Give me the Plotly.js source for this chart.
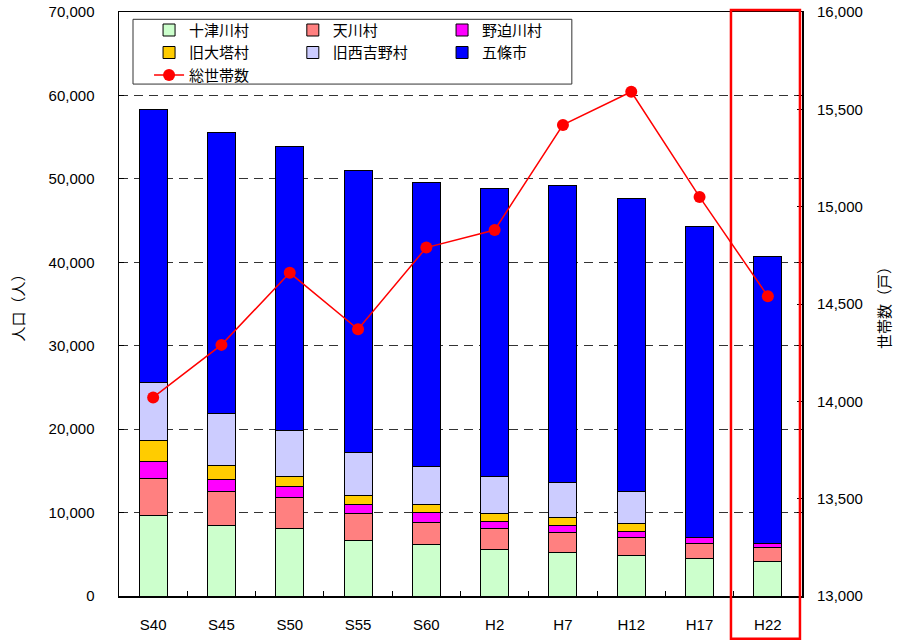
<!DOCTYPE html>
<html>
<head>
<meta charset="utf-8">
<script src="https://cdn.plot.ly/plotly-3.0.1.min.js"></script>
<style>html,body{margin:0;padding:0;background:#fff;}#chart{width:898px;height:640px;}</style>
</head>
<body>
<div id="chart"></div>
<script>
// ---- data ----
const years = ['S40','S45','S50','S55','S60','H2','H7','H12','H17','H22'];
const totsukawa = [9700, 8460, 8060, 6660, 6180, 5540, 5220, 4860, 4500, 4140];
const tenkawa   = [4440, 4080, 3760, 3200, 2600, 2520, 2360, 2160, 1840, 1640];
const nosegawa  = [2000, 1440, 1280, 1080, 1240,  910,  880,  680,  720,  550];
const otou      = [2480, 1640, 1240, 1120,  920,  920,  920,  960, null, null];
const nishiyoshino = [6960, 6240, 5520, 5160, 4630, 4440, 4240, 3910, null, null];
const gojo      = [32760, 33670, 34040, 33800, 34050, 34560, 35640, 35090, 37200, 34320];
const households = [14020, 14290, 14660, 14370, 14790, 14880, 15420, 15590, 15050, 14540];

const CJK = '"Noto Sans CJK JP", "Noto Sans CJK SC", sans-serif';
const NUM = '"Liberation Sans", Arial, sans-serif';

function bar(name, y, color, legend) {
  return {type:'bar', name:name, x:years, y:y, legend:legend,
    marker:{color:color, line:{color:'#000', width:1}}, hoverinfo:'name+y'};
}

const traces = [
  bar('十津川村', totsukawa, '#CCFFCC', 'legend'),
  bar('天川村', tenkawa, '#FF8080', 'legend2'),
  bar('野迫川村', nosegawa, '#FF00FF', 'legend3'),
  bar('旧大塔村', otou, '#FFCC00', 'legend'),
  bar('旧西吉野村', nishiyoshino, '#CCCCFF', 'legend2'),
  bar('五條市', gojo, '#0000FF', 'legend3'),
  {type:'scatter', mode:'lines+markers', name:'総世帯数', x:years, y:households, yaxis:'y2', legend:'legend',
   line:{color:'#FF0000', width:1.5}, marker:{color:'#FF0000', size:12}}
];

const legBase = {orientation:'v', traceorder:'normal', bgcolor:'rgba(0,0,0,0)', borderwidth:0,
  font:{family:CJK, size:15, color:'#000'}, xanchor:'left', yanchor:'top', y:0.997, itemwidth:30};

const layout = {
  width:898, height:640,
  margin:{l:119, r:96, t:12, b:44, pad:0},
  paper_bgcolor:'#fff', plot_bgcolor:'#fff',
  font:{family:NUM, size:15, color:'#000'},
  barmode:'stack', bargap:0.59,
  showlegend:true,
  legend:Object.assign({}, legBase, {x:0.044}),
  legend2:Object.assign({}, legBase, {x:0.2545}),
  legend3:Object.assign({}, legBase, {x:0.473}),
  xaxis:{type:'category', range:[-0.5, 9.5], autorange:false, showline:true, linecolor:'#000', linewidth:1.5, mirror:true,
    ticks:'inside', tickson:'boundaries', ticklen:5, tickcolor:'#000',
    ticklabelstandoff:14, tickfont:{family:NUM, size:15, color:'#000'}, showgrid:false},
  yaxis:{range:[0,70000], dtick:10000, tickformat:',d', showline:true, linecolor:'#000', linewidth:1.5,
    mirror:'ticks', ticks:'inside', ticklen:5, tickcolor:'#000',
    showgrid:true, gridcolor:'#333', griddash:'9px,6px', gridwidth:1, zeroline:false,
    ticklabelstandoff:20, tickfont:{family:NUM, size:15, color:'#000'},
    title:{text:'人口（人）', font:{family:CJK, size:15, color:'#000'}, standoff:20}},
  yaxis2:{range:[13000,16000], dtick:500, tickformat:',d', overlaying:'y', side:'right',
    showline:false, ticks:'inside', ticklen:5, tickcolor:'#000', showgrid:false, zeroline:false,
    ticklabelstandoff:14, tickfont:{family:NUM, size:15, color:'#000'},
    title:{text:'世帯数（戸）', font:{family:CJK, size:15, color:'#000'}, standoff:17}},
  shapes:[
    {type:'rect', xref:'paper', yref:'paper', x0:0.0205, x1:0.663, y0:0.8766, y1:0.9875,
     line:{color:'#333', width:1}, fillcolor:'rgba(255,255,255,1)', layer:'above'},
    {type:'rect', xref:'paper', yref:'paper', x0:0.896, x1:0.997, y0:-0.073, y1:1.0034,
     line:{color:'#FF0000', width:2.5}, fillcolor:'rgba(0,0,0,0)', layer:'above'}
  ]
};

Plotly.newPlot('chart', traces, layout, {displayModeBar:false, staticPlot:true});
</script>
</body>
</html>
